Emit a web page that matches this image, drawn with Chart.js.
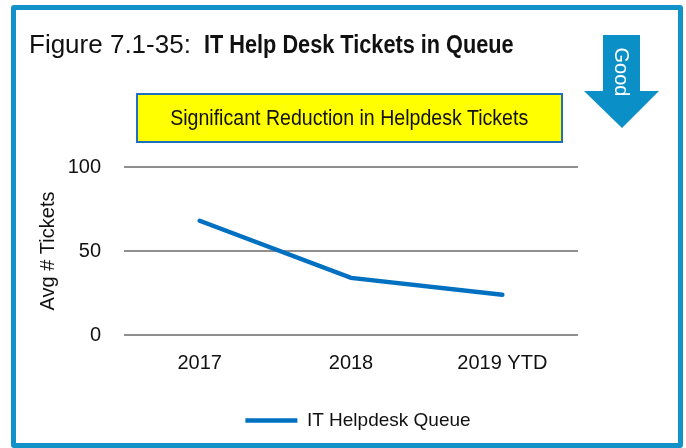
<!DOCTYPE html>
<html>
<head>
<meta charset="utf-8">
<title>IT Help Desk Tickets in Queue</title>
<script src="https://cdn.jsdelivr.net/npm/chart.js@4.4.1/dist/chart.umd.min.js"></script>
<style>
    body { margin: 0; background: #fff; font-family: "Liberation Sans", Arial, sans-serif; }
    #wrap { position: relative; width: 686px; height: 448px; overflow: hidden; }
    #queueChart { position: absolute; left: 0; top: 0; }
    .frame {
        position: absolute; left: 11px; top: 5px; width: 672px; height: 443px;
        box-sizing: border-box; border: 5px solid #1192c8; border-radius: 3px;
        pointer-events: none;
    }
    .fig-title {
        position: absolute; left: 29px; top: 31px; font-size: 26px; line-height: 26px;
        color: #111; white-space: nowrap;
    }
    .fig-title b {
        display: inline-block; transform: scaleX(0.835); transform-origin: left center;
        margin-left: 13px;
    }
    .callout {
        position: absolute; left: 136px; top: 93px; width: 427px; height: 50px;
        box-sizing: border-box; border: 2px solid #1f6fc0; background: #ffff00;
        display: flex; align-items: center; justify-content: center;
    }
    .callout span {
        display: inline-block; font-size: 22px; color: #111; white-space: nowrap;
        transform: scaleX(0.89);
    }
    .good { position: absolute; left: 0; top: 0; pointer-events: none; }
</style>
</head>
<body>
<div id="wrap">
    <canvas id="queueChart" width="686" height="448"></canvas>
    <div class="frame"></div>
    <div class="fig-title">Figure 7.1-35:<b>IT Help Desk Tickets in Queue</b></div>
    <div class="callout"><span>Significant Reduction in Helpdesk Tickets</span></div>
    <svg class="good" width="686" height="448">
        <polygon points="603,35 640,35 640,91 659,91 622,128 584,91 603,91" fill="#0a8fc7"/>
        <text x="0" y="0" transform="translate(615,72) rotate(90)" text-anchor="middle"
              font-family="Liberation Sans, Arial, sans-serif" font-size="20" fill="#fff">Good</text>
    </svg>
</div>
<script>
var years = ['2017', '2018', '2019 YTD'];
var helpdeskQueue = [68, 34, 24];
var yTicks = [0, 50, 100];

var ctx = document.getElementById('queueChart').getContext('2d');

// legend sits a bit right of the plot centre
var legendShift = {
    id: 'legendShift',
    afterLayout: function (chart) {
        chart.legend.left += 53;
        chart.legend.right += 53;
    }
};

var queueChart = new Chart(ctx, {
    type: 'line',
    data: {
        labels: years,
        datasets: [
            {
                label: 'IT Helpdesk Queue',
                data: helpdeskQueue,
                borderColor: '#0070c0',
                backgroundColor: '#0070c0',
                borderWidth: 4.5,
                borderCapStyle: 'round',
                pointRadius: 0,
                pointHoverRadius: 0,
                tension: 0,
                fill: false
            }
        ]
    },
    plugins: [legendShift],
    options: {
        responsive: false,
        animation: false,
        layout: {
            padding: {
                left: 32,
                right: 108,
                top: 167,
                bottom: 8
            }
        },
        scales: {
            x: {
                offset: true,
                afterFit: function (axis) {
                    axis.height = 66;
                },
                grid: {
                    display: false,
                    drawTicks: false
                },
                border: {
                    display: false
                },
                ticks: {
                    color: '#111',
                    padding: 16,
                    font: {
                        family: 'Liberation Sans',
                        size: 20
                    }
                }
            },
            y: {
                min: 0,
                max: 100,
                afterBuildTicks: function (axis) {
                    axis.ticks = yTicks.map(function (v) { return { value: v }; });
                },
                afterFit: function (axis) {
                    axis.width = 92;
                },
                grid: {
                    color: '#8f8f8f',
                    lineWidth: 2,
                    drawTicks: false
                },
                border: {
                    display: false
                },
                ticks: {
                    color: '#111',
                    padding: 23,
                    font: {
                        family: 'Liberation Sans',
                        size: 20
                    }
                },
                title: {
                    display: true,
                    text: 'Avg # Tickets',
                    color: '#111',
                    padding: { top: 4, bottom: 4 },
                    font: {
                        family: 'Liberation Sans',
                        size: 20
                    }
                }
            }
        },
        plugins: {
            legend: {
                position: 'bottom',
                labels: {
                    color: '#111',
                    boxWidth: 52,
                    boxHeight: 0,
                    padding: 10,
                    font: {
                        family: 'Liberation Sans',
                        size: 19
                    }
                }
            },
            tooltip: {
                enabled: false
            }
        }
    }
});
</script>
</body>
</html>
